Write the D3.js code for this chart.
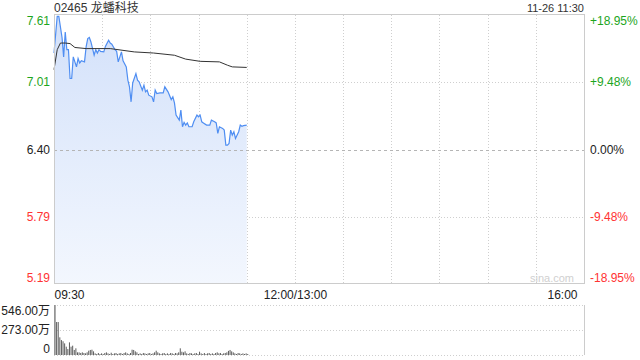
<!DOCTYPE html>
<html>
<head>
<meta charset="utf-8">
<script src="https://cdn.jsdelivr.net/npm/d3@7/dist/d3.min.js"></script>
<style>
  html, body { margin: 0; padding: 0; background: #fff; }
  svg text { font-family: "Liberation Sans", Arial, sans-serif; }
</style>
</head>
<body>
<svg id="chart" width="640" height="360"></svg>
<script>
// stock + session
var stockTitle = "02465 龙蟠科技";
var stamp = "11-26 11:30";
var prevClose = 6.40;

// price ticks (left) and percent ticks (right)
var priceTicks = [7.61, 7.01, 6.40, 5.79, 5.19];
var pctTicks = ["+18.95%", "+9.48%", "0.00%", "-9.48%", "-18.95%"];
var timeTicks = [0, 150, 330];
var timeLabels = ["09:30", "12:00/13:00", "16:00"];

// intraday price, minutes after 09:30
var priceMinutes = [0,2,3,5,6,7,8,9,10,11,12,14,15,16,17,19,20,21,22,23,25,26,27,28,29,31,32,34,35,36,38,39,40,42,43,45,46,47,48,49,51,52,53,55,56,57,58,59,61,62,63,64,66,68,69,71,73,74,75,76,78,79,80,81,82,83,84,86,87,89,90,91,92,93,95,97,98,100,101,102,103,105,106,107,108,109,110,111,112,113,115,116,117,118,120];
var priceValues  = [7.27,7.60,7.60,7.41,7.235,7.46,7.30,7.30,7.04,7.04,7.235,7.145,7.22,7.18,7.20,7.19,7.325,7.40,7.41,7.37,7.25,7.30,7.27,7.30,7.285,7.28,7.33,7.385,7.36,7.35,7.30,7.285,7.19,7.28,7.20,7.145,7.025,6.965,6.83,7.00,7.085,7.025,7.01,6.935,6.98,6.92,6.935,6.89,6.875,6.83,6.935,6.905,6.91,6.91,6.965,6.92,6.85,6.875,6.82,6.71,6.665,6.755,6.605,6.645,6.62,6.64,6.605,6.605,6.65,6.71,6.695,6.71,6.65,6.64,6.62,6.62,6.665,6.65,6.64,6.545,6.605,6.59,6.575,6.44,6.44,6.455,6.575,6.53,6.56,6.50,6.56,6.62,6.61,6.615,6.62];

// average price line
var avgMinutes = [0,2,4,7,10,13,20,35,50,62,75,82,91,103,108,111,120];
var avgValues  = [7.12,7.30,7.36,7.36,7.355,7.32,7.31,7.31,7.28,7.27,7.25,7.215,7.195,7.19,7.16,7.145,7.14];

// volume per minute (万)
var volTicks = [546, 273, 0];
var volLabels = ["546.00万", "273.00万", "0"];
var volumes = [546,360,360,193,163,150,127,91,65,138,91,102,55,73,
  29,29,22,29,22,18,29,
  47,55,58,40,
  18,11,22,11,18,11,22,29,18,11,25,11,18,22,11,18,22,11,22,29,18,11,22,
  58,55,40,
  29,11,18,11,22,18,11,18,22,11,18,29,
  47,29,18,
  11,18,22,11,18,11,22,18,11,22,18,29,
  73,36,29,40,
  18,11,22,18,11,18,22,11,
  36,
  18,11,22,11,18,22,11,18,11,22,29,18,22,11,18,22,29,
  45,55,40,29,
  18,11,22,18,11,18,11,18,11];

var green = "#1da51d", red = "#ff3333", grid = "#cfcfcf";
var svg = d3.select("#chart");
var padL = 54, padR = 584, padT = 15, padB = 284;
var vTop = 305, vBottom = 355;

var x = d3.scaleLinear().domain([0, 330]).range([padL, padR]);
var y = d3.scaleLinear().domain([prevClose * (1 - 0.1895), prevClose * (1 + 0.1895)]).range([padB, padT]);
var yv = d3.scaleLinear().domain([0, 546]).range([vBottom, vTop]);

function tickColor(i) { return i < 2 ? green : (i == 2 ? "#222" : red); }

// title + stamp
svg.append("text").attr("x", padL).attr("y", 12).attr("font-size", 12).attr("fill", "#333")
  .style("font-family", "'Liberation Sans', 'Noto Sans CJK SC', sans-serif").text(stockTitle);
svg.append("text").attr("x", padR).attr("y", 12).attr("font-size", 11).attr("fill", "#333")
  .attr("text-anchor", "end").text(stamp);

// gradient for area
var defs = svg.append("defs");
var grad = defs.append("linearGradient").attr("id", "fillg").attr("x1", 0).attr("y1", 0).attr("x2", 0).attr("y2", 1);
grad.append("stop").attr("offset", "0%").attr("stop-color", "#d3e1fa");
grad.append("stop").attr("offset", "100%").attr("stop-color", "#f3f7fe");

// price grid
var vlines = d3.range(30, 330, 30);
svg.append("g").selectAll("line").data(vlines).enter().append("line")
  .attr("x1", function(d) { return Math.round(x(d)) + 0.5; }).attr("x2", function(d) { return Math.round(x(d)) + 0.5; })
  .attr("y1", padT).attr("y2", padB)
  .attr("stroke", grid).attr("stroke-dasharray", "1,2");
svg.append("g").selectAll("line").data([7.01, 5.79]).enter().append("line")
  .attr("x1", padL).attr("x2", padR)
  .attr("y1", function(d) { return Math.round(y(d)) + 0.5; }).attr("y2", function(d) { return Math.round(y(d)) + 0.5; })
  .attr("stroke", grid).attr("stroke-dasharray", "1,2");

// area + lines
var area = d3.area()
  .x(function(d, i) { return x(priceMinutes[i]); })
  .y0(padB)
  .y1(function(d) { return y(d); });
svg.append("path").datum(priceValues).attr("d", area).attr("fill", "url(#fillg)");

svg.append("line").attr("x1", padL).attr("x2", padR)
  .attr("y1", Math.round(y(prevClose)) + 0.5).attr("y2", Math.round(y(prevClose)) + 0.5)
  .attr("stroke", "#b5b5b5").attr("stroke-dasharray", "3,3");

var priceLine = d3.line()
  .x(function(d, i) { return x(priceMinutes[i]); })
  .y(function(d) { return y(d); });
svg.append("path").datum(priceValues).attr("d", priceLine)
  .attr("fill", "none").attr("stroke", "#4f8ef2").attr("stroke-width", 1.2);

var avgLine = d3.line()
  .x(function(d, i) { return x(avgMinutes[i]); })
  .y(function(d) { return y(d); });
svg.append("path").datum(avgValues).attr("d", avgLine)
  .attr("fill", "none").attr("stroke", "#333").attr("stroke-width", 1);

// frame
svg.append("rect").attr("x", padL + 0.5).attr("y", padT - 0.5).attr("width", padR - padL).attr("height", padB - padT)
  .attr("fill", "none").attr("stroke", "#cccccc");

// left price axis
var yAxis = svg.append("g").attr("transform", "translate(" + padL + ",0)")
  .call(d3.axisLeft(y).tickValues(priceTicks).tickFormat(d3.format(".2f")).tickSize(0).tickPadding(4));
yAxis.select(".domain").remove();
yAxis.selectAll("text").attr("font-size", 12)
  .attr("fill", function(d, i) { return tickColor(i); })
  .attr("dy", function(d, i) { return i == 0 ? "0.8em" : (i == 4 ? "-0.15em" : "0.32em"); });

// right percent axis
var yAxisR = svg.append("g").attr("transform", "translate(" + padR + ",0)")
  .call(d3.axisRight(y).tickValues(priceTicks).tickFormat(function(d, i) { return pctTicks[i]; }).tickSize(0).tickPadding(6));
yAxisR.select(".domain").remove();
yAxisR.selectAll("text").attr("font-size", 12)
  .attr("fill", function(d, i) { return tickColor(i); })
  .attr("dy", function(d, i) { return i == 0 ? "0.8em" : (i == 4 ? "-0.15em" : "0.32em"); });

// time axis
var xAxis = svg.append("g").attr("transform", "translate(0," + padB + ")")
  .call(d3.axisBottom(x).tickValues(timeTicks).tickFormat(function(d, i) { return timeLabels[i]; }).tickSize(0).tickPadding(6));
xAxis.select(".domain").remove();
xAxis.selectAll("text").attr("font-size", 12).attr("fill", "#222")
  .attr("text-anchor", function(d, i) { return i == 0 ? "start" : (i == 2 ? "end" : "middle"); })
  .attr("dx", function(d, i) { return i == 2 ? "-7" : "0"; });

// watermark
svg.append("text").attr("x", 574).attr("y", 282).attr("text-anchor", "end")
  .attr("font-size", 11).attr("fill", "#d0d0d0").text("sina.com");

// volume panel
svg.append("g").selectAll("line").data(volTicks).enter().append("line")
  .attr("x1", padL).attr("x2", padR)
  .attr("y1", function(d) { return Math.round(yv(d)) + 0.5; }).attr("y2", function(d) { return Math.round(yv(d)) + 0.5; })
  .attr("stroke", grid).attr("stroke-dasharray", "1,2");
svg.append("line").attr("x1", padR + 0.5).attr("x2", padR + 0.5).attr("y1", vTop).attr("y2", vBottom).attr("stroke", "#ccc");
svg.append("line").attr("x1", padL + 0.5).attr("x2", padL + 0.5).attr("y1", vTop).attr("y2", vBottom).attr("stroke", "#ccc");

svg.append("g").selectAll("rect").data(volumes).enter().append("rect")
  .attr("x", function(d, i) { return x(i) + 0.5; })
  .attr("y", function(d) { return yv(d); })
  .attr("width", 1)
  .attr("height", function(d) { return yv(0) - yv(d); })
  .attr("fill", "#5c5c5c");

var vAxis = svg.append("g").attr("transform", "translate(" + padL + ",0)")
  .call(d3.axisLeft(yv).tickValues(volTicks).tickFormat(function(d, i) { return volLabels[i]; }).tickSize(0).tickPadding(4));
vAxis.select(".domain").remove();
vAxis.selectAll("text").attr("font-size", 12).attr("fill", "#222")
  .style("font-family", "'Liberation Sans', 'Noto Sans CJK SC', sans-serif")
  .attr("dy", function(d, i) { return i == 0 ? "0.75em" : (i == 2 ? "-0.2em" : "0.32em"); });
</script>
</body>
</html>
